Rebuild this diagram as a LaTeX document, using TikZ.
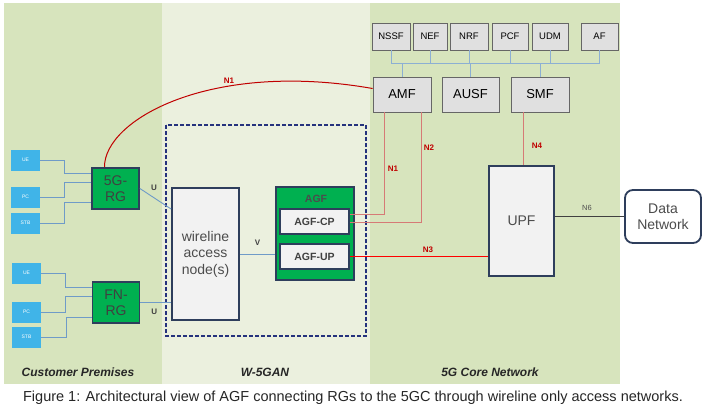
\documentclass[tikz,border=0pt]{standalone}
\usepackage{fontspec}
\setmainfont{Liberation Sans}
\usepackage{tikz}
\definecolor{cpgreen}{HTML}{D7E4BD}
\definecolor{wangreen}{HTML}{EBF0DE}
\definecolor{rggreen}{HTML}{00B050}
\definecolor{navy}{HTML}{2E3E5C}
\definecolor{skyblue}{HTML}{40B4E8}
\definecolor{wireblue}{HTML}{6F9BC8}
\definecolor{nfgray}{HTML}{E0E0E0}
\definecolor{nred}{HTML}{C00000}
\definecolor{nsalmon}{HTML}{D67A76}

\begin{document}
\begin{tikzpicture}[x=1pt,y=-1pt,
  dev/.style={rectangle,fill=skyblue,text=white,font=\fontsize{5}{5}\selectfont,minimum width=29pt,minimum height=21pt,inner sep=0pt},
  rg/.style={rectangle,draw=navy,line width=1.8pt,fill=rggreen,text=black!75,font=\fontsize{14}{16}\selectfont,align=center,minimum width=47pt,minimum height=41pt,inner sep=0pt},
  nf/.style={rectangle,draw=black!60,line width=0.9pt,fill=nfgray,font=\fontsize{9.5}{10}\selectfont,minimum height=27pt,inner sep=0pt},
  cnf/.style={rectangle,draw=black!60,line width=0.9pt,fill=nfgray,font=\fontsize{13}{14}\selectfont,minimum width=58pt,minimum height=35pt,inner sep=0pt},
  lightbox/.style={rectangle,draw=navy,line width=1.8pt,fill=black!5,text=black!70,align=center,font=\fontsize{14}{16.5}\selectfont,inner sep=0pt},
  agfpart/.style={rectangle,draw=navy,line width=1.8pt,fill=black!5,text=black!75,font=\fontsize{10.5}{11}\selectfont\bfseries,minimum width=69pt,minimum height=25pt,inner sep=0pt},
  wire/.style={draw=wireblue,line width=0.9pt},
  bus/.style={draw=wireblue!80,line width=1pt},
  nlabel/.style={text=nred,font=\fontsize{8}{8}\selectfont\bfseries},
  ilabel/.style={text=black!75,font=\fontsize{8}{8}\selectfont\bfseries},
  region/.style={font=\fontsize{12}{12}\selectfont\itshape\bfseries,text=black!85}]
\useasboundingbox (0,0) rectangle (705,408);
% background panels
\fill[cpgreen] (4,3) rectangle (162,384);
\fill[wangreen] (162,3) rectangle (370,384);
\fill[cpgreen] (370,3) rectangle (620,384);
\draw[draw=navy!80!blue,line width=1.3pt,dash pattern=on 4pt off 2pt] (166,125) rectangle (366,336);

% customer premises
\node[dev] (ue1) at (25.5,160) {UE};
\node[dev] (pc1) at (25.5,197) {PC};
\node[dev] (stb1) at (25.5,223) {STB};
\node[dev] (ue2) at (26.5,273) {UE};
\node[dev] (pc2) at (26.5,312) {PC};
\node[dev] (stb2) at (26.5,337) {STB};
\node[rg] (rg5g) at (115.5,188.5) {5G-\\RG};
\node[rg] (fnrg) at (116,302.5) {FN-\\RG};

\draw[wire] (ue1.east) -- ++(24,0) |- (rg5g.west |- 0,173);
\draw[wire] (pc1.east) -- ++(24,0) |- (rg5g.west |- 0,182);
\draw[wire] (stb1.east) -- ++(24,0) |- (rg5g.west |- 0,202);
\draw[wire] (ue2.east) -- ++(24,0) |- (fnrg.west |- 0,287);
\draw[wire] (pc2.east) -- ++(24,0) |- (fnrg.west |- 0,296);
\draw[wire] (stb2.east) -- ++(25,0) |- (fnrg.west |- 0,317);

% W-5GAN
\node[lightbox,minimum width=67pt,minimum height=132pt] (wan) at (205.5,254) {wireline\\access\\node(s)};
\node[rectangle,draw=navy,line width=1.8pt,fill=rggreen,minimum width=78pt,minimum height=93pt] (agf) at (315,233.5) {};
\node[text=black!70,font=\fontsize{10.5}{11}\selectfont\bfseries] (agft) at (316,199) {AGF};
\node[agfpart] (agfcp) at (314.5,221.5) {AGF-CP};
\node[agfpart] (agfup) at (314.5,256.5) {AGF-UP};

\draw[wire] (rg5g.east) -- (wan.west |- 0,209) node[ilabel,pos=0.45,above=3pt] {U};
\draw[wire] (fnrg.east) -- (wan.west |- fnrg.east) node[ilabel,pos=0.45,below=3pt] {U};
\draw[wire] (wan.east) -- (agf.west |- wan.east) node[ilabel,midway,above=5pt] {V};

% 5G core
\node[nf,minimum width=38pt] (nssf) at (391,36.5) {NSSF};
\node[nf,minimum width=34pt] (nef) at (430,36.5) {NEF};
\node[nf,minimum width=38pt] (nrf) at (469,36.5) {NRF};
\node[nf,minimum width=36pt] (pcf) at (510,36.5) {PCF};
\node[nf,minimum width=36pt] (udm) at (550,36.5) {UDM};
\node[nf,minimum width=37pt] (af) at (599.5,36.5) {AF};
\node[cnf] (amf) at (402,94.5) {AMF};
\node[cnf,minimum width=57pt] (ausf) at (470.5,94.5) {AUSF};
\node[cnf] (smf) at (540,94.5) {SMF};
\node[lightbox,minimum width=65pt,minimum height=110pt] (upf) at (521.5,221) {UPF};
\node[lightbox,rounded corners=8pt,fill=white,minimum width=76pt,minimum height=53pt] (dn) at (663,216.5) {Data\\Network};

\draw[bus] (nssf.south |- 0,63) -- (af.south |- 0,63);
\foreach \n in {nssf,nef,nrf,pcf,udm,af}
  \draw[bus] (\n.south) -- (\n.south |- 0,63);
\foreach \n in {amf,ausf,smf}
  \draw[bus] (\n.north) -- (\n.north |- 0,63);

% reference points
\draw[nred,line width=1pt] ([xshift=-11pt]rg5g.north) .. controls (104,120) and (210,60) .. ([yshift=6pt]amf.west);
\node[nlabel] (n1a) at (229,81) {N1};
\draw[nsalmon,line width=1pt] (amf.south -| 384,0) |- (agfcp.east |- 0,214);
\node[nlabel] (n1b) at (393,169) {N1};
\draw[nsalmon,line width=1pt] (amf.south -| 421,0) |- (agfcp.east |- 0,222);
\node[nlabel] (n2) at (429,148) {N2};
\draw[red,line width=1.2pt] (agfup.east) -- (upf.west |- agfup.east);
\node[nlabel] (n3) at (428,250) {N3};
\draw[nsalmon,line width=1pt] (smf.south -| 523,0) -- (upf.north -| 523,0);
\node[nlabel] (n4) at (537,146) {N4};
\draw[black!75,line width=1pt] (dn.west) -- (upf.east |- dn.west);
\node[text=black!70,font=\fontsize{7.5}{8}\selectfont] (n6) at (587,208) {N6};

% regions and caption
\node[region] (cp) at (78,372) {Customer Premises};
\node[region] (w5gan) at (265,372) {W-5GAN};
\node[region] (core) at (490,372) {5G Core Network};
\node[font=\fontsize{14.5}{15}\selectfont,text=black!85] (caption) at (353,398) {Figure 1: Architectural view of AGF connecting RGs to the 5GC through wireline only access networks.};
\end{tikzpicture}
\end{document}
